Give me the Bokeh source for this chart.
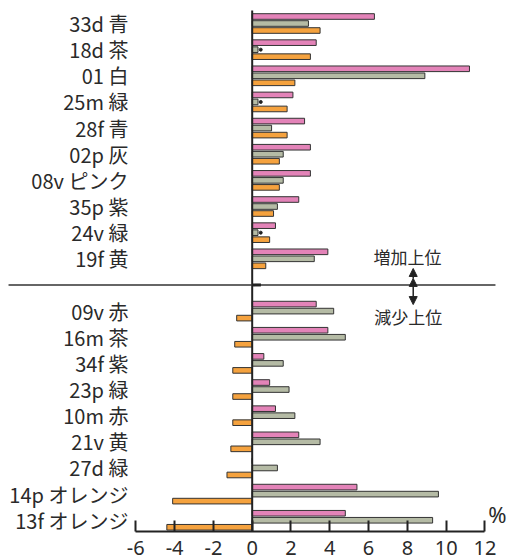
from bokeh.plotting import figure
from bokeh.models import Range1d, FixedTicker, ColumnDataSource, Arrow, NormalHead
from bokeh.embed import file_html
from bokeh.resources import INLINE
from bokeh.core.properties import value

# ---- data ----
categories_up = ["33d 青", "18d 茶", "01 白", "25m 緑", "28f 青", "02p 灰",
                 "08v ピンク", "35p 紫", "24v 緑", "19f 黄"]
categories_down = ["09v 赤", "16m 茶", "34f 紫", "23p 緑", "10m 赤", "21v 黄",
                   "27d 緑", "14p オレンジ", "13f オレンジ"]

pink_up = [6.3, 3.3, 11.2, 2.1, 2.7, 3.0, 3.0, 2.4, 1.2, 3.9]
gray_up = [2.9, 0.3, 8.9, 0.3, 1.0, 1.6, 1.6, 1.3, 0.3, 3.2]
orange_up = [3.5, 3.0, 2.2, 1.8, 1.8, 1.4, 1.4, 1.1, 0.9, 0.7]
small_mark_up = [False, True, False, True, False, False, False, False, True, False]

pink_down = [3.3, 3.9, 0.6, 0.9, 1.2, 2.4, 0.0, 5.4, 4.8]
gray_down = [4.2, 4.8, 1.6, 1.9, 2.2, 3.5, 1.3, 9.6, 9.3]
orange_down = [-0.8, -0.9, -1.0, -1.0, -1.0, -1.1, -1.3, -4.1, -4.4]

x_ticks = [-6, -4, -2, 0, 2, 4, 6, 8, 10, 12]
x_tick_labels = ["-6", "-4", "-2", "0", "2", "4", "6", "8", "10", "12"]

label_up = "増加上位"
label_down = "減少上位"
unit_label = "%"

PINK = "#E383B8"
GRAY = "#B5BBA5"
ORANGE = "#F5A23E"
EDGE = "#333333"
TXT = "#2a2a2a"

# ---- layout helpers ----
categories = categories_up + categories_down
slots = list(range(len(categories_up))) + [len(categories_up) + 1 + j for j in range(len(categories_down))]
sep_slot = len(categories_up)
pink = pink_up + pink_down
gray = gray_up + gray_down
orange = orange_up + orange_down
off = 0.268
bh = 0.215

src = ColumnDataSource(dict(
    cat=categories,
    y=slots,
    y_p=[s - off for s in slots],
    y_o=[s + off for s in slots],
    pink=pink, gray=gray, orange=orange,
))

p = figure(width=512, height=559, output_backend="svg", toolbar_location=None,
           x_range=Range1d(-12.974, 13.418), y_range=Range1d(19.43, -0.88),
           y_axis_location=None, min_border_left=0, min_border_right=0,
           min_border_top=0, min_border_bottom=28, outline_line_color=None)
p.grid.visible = False

# bars
p.hbar(y="y_p", left=0, right="pink", height=bh, source=src,
       fill_color=PINK, line_color=EDGE, line_width=1)
p.hbar(y="y", left=0, right="gray", height=bh, source=src,
       fill_color=GRAY, line_color=EDGE, line_width=1)
p.hbar(y="y_o", left=0, right="orange", height=bh, source=src,
       fill_color=ORANGE, line_color=EDGE, line_width=1)

# small markers beside tiny bars
mx = [g + 0.14 for g, m in zip(gray_up, small_mark_up) if m]
my = [s for s, m in zip(slots[:len(categories_up)], small_mark_up) if m]
p.scatter(x=mx, y=my, size=3, marker="circle", color="#222222")

# zero line
p.segment(x0=[0], y0=[-0.5], x1=[0], y1=[19.43], line_color="#222222", line_width=2)

# separator line
p.line(x=[-12.56, 12.54], y=[sep_slot, sep_slot], line_color="#333333", line_width=1.5)
p.line(x=[0, 0.45], y=[sep_slot, sep_slot], line_color="#222222", line_width=3)

# category labels
p.text(x=-6.38, y="y", text="cat", source=src, text_align="right",
       text_baseline="middle", text_font=value("Noto Sans CJK JP"),
       text_font_size="20px", text_color=TXT)

# annotations
p.text(x=[8.0], y=[8.91], text=[label_up], text_align="center", text_baseline="middle",
       text_font=value("Noto Sans CJK JP"), text_font_size="17px", text_color=TXT)
p.text(x=[8.05], y=[11.21], text=[label_down], text_align="center", text_baseline="middle",
       text_font=value("Noto Sans CJK JP"), text_font_size="17px", text_color=TXT)
p.add_layout(Arrow(x_start=8.3, y_start=9.75, x_end=8.3, y_end=10.75,
                   line_color="#222222", line_width=1.5,
                   start=NormalHead(size=8, fill_color="#222222", line_color="#222222"),
                   end=NormalHead(size=8, fill_color="#222222", line_color="#222222")))
p.add_layout(Arrow(x_start=8.3, y_start=9.75, x_end=8.3, y_end=9.37,
                   line_color="#222222", line_width=1.5,
                   end=NormalHead(size=8, fill_color="#222222", line_color="#222222")))
p.text(x=[12.64], y=[18.75], text=[unit_label], text_align="center", text_baseline="middle",
       text_font=value("Noto Sans"), text_font_size="22px", text_color=TXT)

# x axis
ax = p.xaxis[0]
ax.ticker = FixedTicker(ticks=x_ticks)
ax.bounds = (-6, 12)
ax.major_label_overrides = {t: l for t, l in zip(x_ticks, x_tick_labels)}
ax.axis_line_width = 2
ax.axis_line_color = "#222222"
ax.major_tick_in = 11
ax.major_tick_out = 0
ax.major_tick_line_width = 2
ax.major_tick_line_color = "#222222"
ax.minor_tick_in = 0
ax.minor_tick_out = 0
ax.major_label_standoff = 9
ax.major_label_text_font = "Noto Sans"
ax.major_label_text_font_size = "20px"
ax.major_label_text_color = TXT

open("out.html", "w").write(file_html(p, INLINE))
